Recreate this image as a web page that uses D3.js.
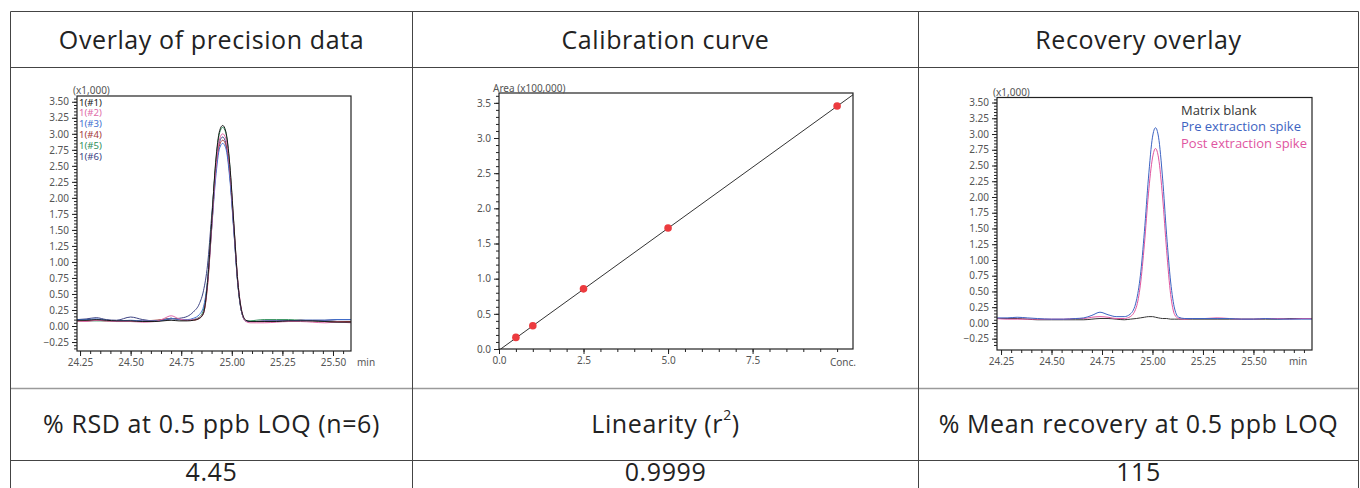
<!DOCTYPE html>
<html lang="en">
<head>
<meta charset="UTF-8" />
<title>Precision, calibration and recovery</title>
<script src="https://d3js.org/d3.v7.min.js"></script>
<style>
  body { margin: 0; background: #fff; }
  svg { display: block; font-family: "Open Sans", "Noto Sans", sans-serif; }
  .grid line { stroke: #444; stroke-width: 1; }
  .grid line.soft { stroke: #9a9a9a; stroke-width: 1.6; }
  .cell-text { font-size: 25px; letter-spacing: 0.6px; fill: #222; text-anchor: middle; dominant-baseline: central; }
  .axis text { font-size: 10px; fill: #555; font-family: "Noto Sans", sans-serif; }
  .axis line { stroke: #222; }
  .axis path { stroke: #222; }
  .frame { fill: none; stroke: #222; stroke-width: 1.2; }
  .small { font-size: 10px; fill: #555; font-family: "Noto Sans", sans-serif; }
  .trace { fill: none; stroke-width: 1; }
</style>
</head>
<body>
<svg id="fig" width="1360" height="488"></svg>
<script>
// ---- table text ----
const headTitles = ["Overlay of precision data", "Calibration curve", "Recovery overlay"];
const resultLabels = [["% RSD at 0.5 ppb LOQ (n=6)"], ["Linearity (r", "2", ")"], ["% Mean recovery at 0.5 ppb LOQ"]];
const resultValues = ["4.45", "0.9999", "115"];

// ---- precision overlay (x1,000) ----
const precTime = [24.235, 24.28, 24.33, 24.38, 24.43, 24.50, 24.56, 24.62, 24.66, 24.70, 24.74, 24.78, 24.81, 24.84, 24.86, 24.88, 24.90, 24.92, 24.94, 24.955, 24.97, 24.99, 25.01, 25.03, 25.05, 25.07, 25.09, 25.12, 25.16, 25.22, 25.28, 25.34, 25.40, 25.46, 25.52, 25.589];
const precNames = ["1(#1)", "1(#2)", "1(#3)", "1(#4)", "1(#5)", "1(#6)"];
const precColors = ["#1a1a1a", "#e06aa8", "#3f6fd0", "#a53a3a", "#2f8f5a", "#3c4282"];
const prec1 = [0.09, 0.09, 0.10, 0.09, 0.08, 0.08, 0.07, 0.07, 0.08, 0.09, 0.08, 0.08, 0.09, 0.12, 0.20, 0.68, 1.60, 2.55, 3.05, 3.13, 3.04, 2.52, 1.60, 0.68, 0.22, 0.09, 0.07, 0.07, 0.07, 0.07, 0.08, 0.08, 0.08, 0.07, 0.06, 0.06];
const prec2 = [0.08, 0.07, 0.09, 0.08, 0.07, 0.07, 0.06, 0.07, 0.11, 0.16, 0.11, 0.09, 0.10, 0.13, 0.20, 0.65, 1.52, 2.42, 2.92, 3.00, 2.93, 2.45, 1.58, 0.70, 0.22, 0.07, 0.05, 0.05, 0.05, 0.06, 0.07, 0.07, 0.06, 0.05, 0.06, 0.05];
const prec3 = [0.10, 0.10, 0.11, 0.09, 0.08, 0.09, 0.08, 0.08, 0.09, 0.12, 0.10, 0.10, 0.12, 0.18, 0.30, 0.70, 1.50, 2.30, 2.78, 2.85, 2.78, 2.30, 1.48, 0.65, 0.20, 0.08, 0.07, 0.07, 0.08, 0.08, 0.08, 0.09, 0.09, 0.09, 0.10, 0.10];
const prec4 = [0.08, 0.08, 0.09, 0.08, 0.08, 0.08, 0.08, 0.09, 0.10, 0.12, 0.10, 0.09, 0.09, 0.12, 0.20, 0.62, 1.50, 2.38, 2.83, 2.90, 2.83, 2.36, 1.52, 0.66, 0.20, 0.08, 0.07, 0.07, 0.08, 0.08, 0.08, 0.09, 0.08, 0.08, 0.07, 0.07];
const prec5 = [0.08, 0.08, 0.08, 0.08, 0.07, 0.07, 0.07, 0.08, 0.10, 0.12, 0.10, 0.09, 0.10, 0.14, 0.25, 0.70, 1.60, 2.52, 3.02, 3.10, 3.02, 2.50, 1.58, 0.66, 0.20, 0.08, 0.08, 0.09, 0.10, 0.10, 0.10, 0.09, 0.08, 0.07, 0.07, 0.07];
const prec6 = [0.10, 0.11, 0.13, 0.10, 0.09, 0.14, 0.10, 0.08, 0.09, 0.11, 0.12, 0.15, 0.22, 0.35, 0.55, 0.95, 1.70, 2.45, 2.88, 2.95, 2.86, 2.38, 1.50, 0.64, 0.20, 0.08, 0.07, 0.07, 0.07, 0.08, 0.08, 0.09, 0.09, 0.09, 0.10, 0.10];

// ---- calibration curve (Area x100,000 vs Conc.) ----
const calConc = [0.5, 1.0, 2.5, 5.0, 10.0];
const calArea = [0.165, 0.33, 0.855, 1.72, 3.455];
const calLineConc = [0.05, 10.47];
const calLineArea = [0.0, 3.615];

// ---- recovery overlay (x1,000) ----
const recTime = [24.23, 24.28, 24.33, 24.38, 24.43, 24.50, 24.56, 24.62, 24.66, 24.70, 24.74, 24.78, 24.82, 24.86, 24.89, 24.92, 24.94, 24.96, 24.98, 25.00, 25.015, 25.03, 25.05, 25.07, 25.09, 25.11, 25.13, 25.16, 25.20, 25.26, 25.32, 25.38, 25.44, 25.50, 25.56, 25.62, 25.68, 25.74, 25.79];
const recNames = ["Matrix blank", "Pre extraction spike", "Post extraction spike"];
const recColors = ["#333333", "#3d63c2", "#e0559f"];
const recBlank = [0.07, 0.07, 0.07, 0.06, 0.05, 0.05, 0.05, 0.05, 0.05, 0.06, 0.07, 0.07, 0.06, 0.05, 0.06, 0.07, 0.08, 0.09, 0.10, 0.10, 0.09, 0.08, 0.07, 0.07, 0.06, 0.06, 0.06, 0.06, 0.06, 0.06, 0.06, 0.06, 0.06, 0.06, 0.06, 0.06, 0.07, 0.07, 0.07];
const recPre = [0.08, 0.08, 0.09, 0.08, 0.07, 0.06, 0.06, 0.07, 0.08, 0.12, 0.17, 0.13, 0.10, 0.10, 0.14, 0.35, 0.75, 1.45, 2.30, 2.95, 3.10, 2.95, 2.30, 1.40, 0.65, 0.22, 0.09, 0.07, 0.07, 0.07, 0.07, 0.07, 0.06, 0.06, 0.07, 0.06, 0.06, 0.06, 0.06];
const recPost = [0.07, 0.06, 0.06, 0.06, 0.06, 0.06, 0.06, 0.07, 0.07, 0.09, 0.10, 0.09, 0.07, 0.07, 0.10, 0.25, 0.60, 1.25, 2.05, 2.62, 2.77, 2.62, 2.00, 1.15, 0.45, 0.13, 0.07, 0.06, 0.07, 0.07, 0.08, 0.07, 0.06, 0.06, 0.07, 0.07, 0.06, 0.07, 0.07];

const timeTicks = [24.25, 24.50, 24.75, 25.00, 25.25, 25.50];
const intensityTicks = [-0.25, 0, 0.25, 0.5, 0.75, 1, 1.25, 1.5, 1.75, 2, 2.25, 2.5, 2.75, 3, 3.25, 3.5];
const calXTicks = [0, 2.5, 5, 7.5];
const calYTicks = [0, 0.5, 1, 1.5, 2, 2.5, 3, 3.5];

const svg = d3.select("#fig");

// == TABLE ==
const colEdges = [10.5, 412.5, 918.5, 1358.5];
const rowEdges = [11.5, 67.5, 388.5, 460.5];
const grid = svg.append("g").attr("class", "grid");
rowEdges.forEach((y, i) => {
  grid.append("line").attr("x1", colEdges[0]).attr("x2", colEdges[3]).attr("y1", y).attr("y2", y)
    .classed("soft", i === 2);
});
colEdges.forEach(x => {
  grid.append("line").attr("x1", x).attr("x2", x).attr("y1", rowEdges[0]).attr("y2", 488);
});

const colMid = i => (colEdges[i] + colEdges[i + 1]) / 2;
headTitles.forEach((t, i) => {
  svg.append("text").attr("class", "cell-text").attr("x", colMid(i)).attr("y", 39).text(t);
});
resultLabels.forEach((parts, i) => {
  const txt = svg.append("text").attr("class", "cell-text").attr("x", colMid(i)).attr("y", 423);
  txt.append("tspan").text(parts[0]);
  if (parts.length > 1) {
    txt.append("tspan").attr("font-size", 14).attr("dy", -9).text(parts[1]);
    txt.append("tspan").attr("dy", 9).text(parts[2]);
  }
});
resultValues.forEach((v, i) => {
  svg.append("text").attr("class", "cell-text").attr("x", colMid(i)).attr("y", 471).text(v);
});

// == CHROMATOGRAMS ==
function drawChromatogram(box, time, series, colors, widths) {
  const g = svg.append("g");
  const x = d3.scaleLinear().domain(box.xDomain).range([box.left, box.right]);
  const y = d3.scaleLinear().domain(box.yDomain).range([box.bottom, box.top]);

  const clipId = "clip" + box.left;
  svg.append("clipPath").attr("id", clipId).append("rect")
    .attr("x", box.left).attr("y", box.top).attr("width", box.right - box.left).attr("height", box.bottom - box.top);

  const line = d3.line().x(d => x(d[0])).y(d => y(d[1])).curve(d3.curveMonotoneX);
  const lines = g.append("g").attr("clip-path", `url(#${clipId})`);
  series.forEach((vals, i) => {
    lines.append("path").attr("class", "trace")
      .attr("d", line(time.map((t, j) => [t, vals[j]])))
      .attr("stroke", colors[i]).attr("stroke-width", widths[i]);
  });

  const minorX = d3.range(Math.ceil(box.xDomain[0] / 0.05) * 0.05, box.xDomain[1], 0.05);
  const minorY = d3.range(-0.35, box.yDomain[1], 0.05);
  g.append("g").attr("class", "axis").attr("transform", `translate(0,${box.bottom})`)
    .call(d3.axisBottom(x).tickValues(minorX).tickSize(3).tickFormat(""))
    .call(a => a.select(".domain").remove());
  g.append("g").attr("class", "axis").attr("transform", `translate(0,${box.bottom})`)
    .call(d3.axisBottom(x).tickValues(timeTicks).tickSize(5).tickFormat(d3.format(".2f")))
    .call(a => a.select(".domain").remove());
  g.append("g").attr("class", "axis").attr("transform", `translate(${box.left},0)`)
    .call(d3.axisLeft(y).tickValues(minorY).tickSize(3).tickFormat(""))
    .call(a => a.select(".domain").remove());
  g.append("g").attr("class", "axis").attr("transform", `translate(${box.left},0)`)
    .call(d3.axisLeft(y).tickValues(intensityTicks).tickSize(5).tickFormat(d3.format(".2f")))
    .call(a => a.select(".domain").remove());

  g.append("rect").attr("class", "frame")
    .attr("x", box.left).attr("y", box.top).attr("width", box.right - box.left).attr("height", box.bottom - box.top);

  g.append("text").attr("class", "small").attr("x", box.left - 4).attr("y", box.top - 2).text("(x1,000)");
  g.append("text").attr("class", "small").attr("x", box.minX).attr("y", box.bottom + 15).text("min");
  return g;
}

const precBox = { left: 77, right: 351, top: 96, bottom: 351, xDomain: [24.235, 25.589], yDomain: [-0.39, 3.59], minX: 357 };
const precSeries = [prec6, prec5, prec4, prec3, prec2, prec1];
const g1 = drawChromatogram(precBox, precTime, precSeries, precColors.slice().reverse(), [1, 1, 1, 1, 1, 1.5]);
precNames.forEach((n, i) => {
  g1.append("text").attr("class", "small").attr("x", 79).attr("y", 105.5 + i * 10.9)
    .style("font-size", "9.6px").style("fill", precColors[i]).text(n);
});

const recBox = { left: 997, right: 1312, top: 97.5, bottom: 350, xDomain: [24.23, 25.79], yDomain: [-0.43, 3.58], minX: 1289 };
const g3 = drawChromatogram(recBox, recTime, [recBlank, recPost, recPre], [recColors[0], recColors[2], recColors[1]], [1, 1, 1]);
recNames.forEach((n, i) => {
  g3.append("text").attr("x", 1181).attr("y", 115 + i * 16.4)
    .style("font-size", "13px").style("fill", recColors[i]).text(n);
});

// == CALIBRATION CURVE ==
{
  const box = { left: 499, right: 853, top: 93, bottom: 349 };
  const g = svg.append("g");
  const x = d3.scaleLinear().domain([0, 10.47]).range([box.left, box.right]);
  const y = d3.scaleLinear().domain([0, 3.64]).range([box.bottom, box.top]);

  g.append("g").attr("class", "axis").attr("transform", `translate(0,${box.bottom})`)
    .call(d3.axisBottom(x).tickValues(d3.range(0, 10.01, 0.5)).tickSize(3).tickFormat(""))
    .call(a => a.select(".domain").remove());
  g.append("g").attr("class", "axis").attr("transform", `translate(0,${box.bottom})`)
    .call(d3.axisBottom(x).tickValues(calXTicks).tickSize(5).tickFormat(d3.format(".1f")))
    .call(a => a.select(".domain").remove());
  g.append("g").attr("class", "axis").attr("transform", `translate(${box.left},0)`)
    .call(d3.axisLeft(y).tickValues(d3.range(0, 3.61, 0.1)).tickSize(3).tickFormat(""))
    .call(a => a.select(".domain").remove());
  g.append("g").attr("class", "axis").attr("transform", `translate(${box.left},0)`)
    .call(d3.axisLeft(y).tickValues(calYTicks).tickSize(5).tickFormat(d3.format(".1f")))
    .call(a => a.select(".domain").remove());

  g.append("line")
    .attr("x1", x(calLineConc[0])).attr("y1", y(calLineArea[0]))
    .attr("x2", x(calLineConc[1])).attr("y2", y(calLineArea[1]))
    .attr("stroke", "#333").attr("stroke-width", 1);

  g.append("rect").attr("class", "frame")
    .attr("x", box.left).attr("y", box.top).attr("width", box.right - box.left).attr("height", box.bottom - box.top);

  g.selectAll("circle.pt").data(calConc).join("circle").attr("class", "pt")
    .attr("cx", d => x(d)).attr("cy", (d, i) => y(calArea[i])).attr("r", 3.8)
    .attr("fill", "#ec3b3f");

  g.append("text").attr("class", "small").attr("x", 493).attr("y", 92).text("Area (x100,000)");
  g.append("text").attr("class", "small").attr("x", 843).attr("y", 366).attr("text-anchor", "middle").text("Conc.");
}
</script>
</body>
</html>
